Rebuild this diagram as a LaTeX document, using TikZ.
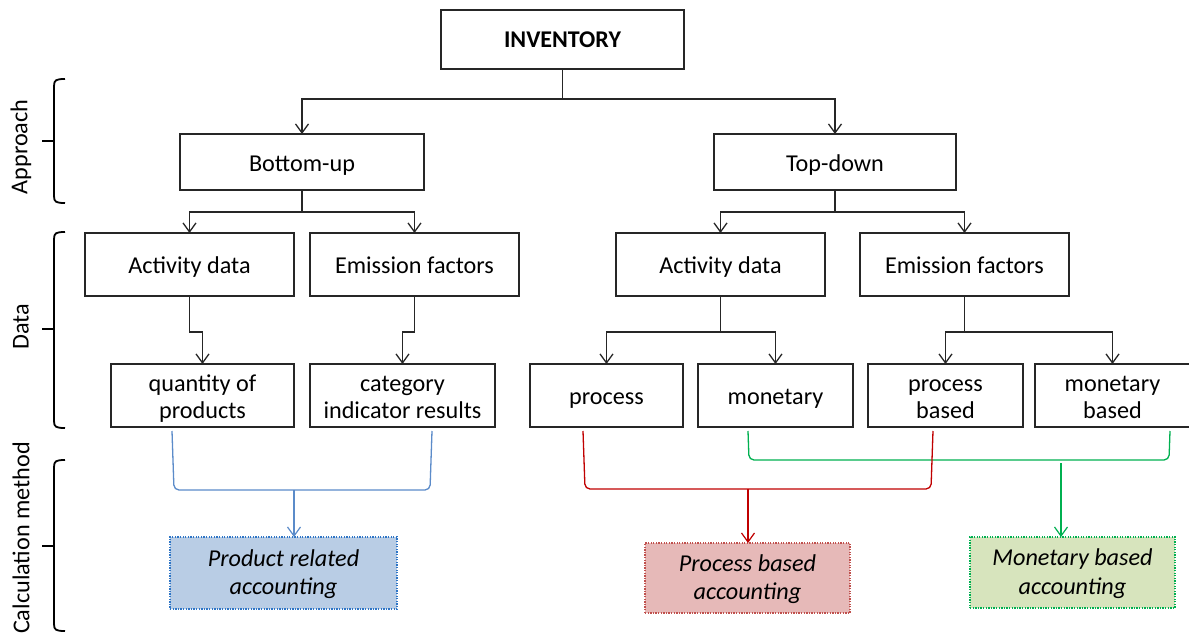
\documentclass[tikz,border=0pt]{standalone}
\usepackage{fontspec}
\setmainfont{Carlito}
\usetikzlibrary{arrows.meta}
\definecolor{bline}{HTML}{5B8BC9}
\definecolor{bfill}{HTML}{B9CDE5}
\definecolor{bdot}{HTML}{2E75C6}
\definecolor{rline}{HTML}{C00000}
\definecolor{rfill}{HTML}{E6B9B8}
\definecolor{rdot}{HTML}{C0504D}
\definecolor{gline}{HTML}{00B050}
\definecolor{gfill}{HTML}{D7E4BD}
\definecolor{gdot}{HTML}{00B050}
\newcommand\stA{\rule{0pt}{22pt}}
\newcommand\stB{\rule[-4pt]{0pt}{0pt}}
\newcommand\stI{\rule{0pt}{19pt}}
\tikzset{
  box/.style={draw=black!85, line width=1.4pt, rectangle, inner sep=0pt, outer sep=0pt,
    align=center, font=\fontsize{24.2}{27}\selectfont},
  resbox/.style={rectangle, inner sep=0pt, outer sep=0pt, line width=1.3pt,
    dash pattern=on 1.3pt off 1.3pt, align=center, font=\fontsize{24.2}{28.3}\selectfont\itshape},
  conn/.style={line width=1.4pt, draw=black!85},
  arr/.style={conn, -{Straight Barb[length=9pt,width=13pt,line width=1.3pt]}},
  carr/.style={line width=1.3pt, -{Straight Barb[length=9pt,width=13pt,line width=1.2pt]}},
  cbr/.style={line width=1.3pt, rounded corners=5pt},
  brk/.style={line width=1.8pt, draw=black},
  side/.style={rotate=90, font=\fontsize{24.2}{28}\selectfont},
}
\begin{document}
\begin{tikzpicture}[x=1pt,y=-1pt]
\useasboundingbox (0,0) rectangle (1189,635);

% level nodes
\node[box, font=\fontsize{24}{28}\selectfont\bfseries, minimum width=243, minimum height=59] (inv) at (562.5,39.5) {INVENTORY};
\node[box, minimum width=244, minimum height=56] (bu) at (302,162) {\stA Bottom-up\stB};
\node[box, minimum width=242, minimum height=56] (td) at (835,162) {\stA Top-down\stB};

\node[box, minimum width=209, minimum height=63] (ad1) at (189.5,264.5) {\stA Activity data\stB};
\node[box, minimum width=209, minimum height=63] (ef1) at (414.5,264.5) {\stA Emission factors\stB};
\node[box, minimum width=209, minimum height=63] (ad2) at (720.5,264.5) {\stA Activity data\stB};
\node[box, minimum width=209, minimum height=63] (ef2) at (964.5,264.5) {\stA Emission factors\stB};

\node[box, minimum width=183, minimum height=63] (q) at (202.5,395.5) {\stA quantity of\\products\stB};
\node[box, minimum width=185, minimum height=63] (c) at (402.5,395.5) {\stA category\\indicator results\stB};
\node[box, minimum width=153, minimum height=63] (p) at (606.5,395.5) {\stA process\stB};
\node[box, minimum width=155, minimum height=63] (m) at (775.5,395.5) {\stA monetary\stB};
\node[box, minimum width=155, minimum height=63] (pb) at (945.5,395.5) {\stA process\\based\stB};
\node[box, minimum width=155, minimum height=63] (mb) at (1112.5,395.5) {\stA monetary\\based\stB};

\node[resbox, draw=bdot, fill=bfill, minimum width=227, minimum height=72] (pr) at (283.5,573) {\stI Product related\\accounting\stB};
\node[resbox, draw=rdot, fill=rfill, minimum width=205, minimum height=70] (pa) at (747.5,578) {\stI Process based\\accounting\stB};
\node[resbox, draw=gdot, fill=gfill, minimum width=205, minimum height=71] (ma) at (1072.5,572.5) {\stI Monetary based\\accounting\stB};

% black connectors
\coordinate (j0) at ([yshift=-30]inv.south);
\draw[conn] (inv.south) -- (j0);
\draw[arr] (j0) -| (bu.north);
\draw[arr] (j0) -| (td.north);

\coordinate (j1) at ([yshift=-22]bu.south);
\draw[conn] (bu.south) -- (j1);
\draw[arr] (j1) -| (ad1.north);
\draw[arr] (j1) -| (ef1.north);

\coordinate (j2) at ([yshift=-22]td.south);
\draw[conn] (td.south) -- (j2);
\draw[arr] (j2) -| (ad2.north);
\draw[arr] (j2) -| (ef2.north);

\draw[arr] (ad1.south) -- ++(0,36) -| (q.north);
\draw[arr] (ef1.south) -- ++(0,36) -| (c.north);

\coordinate (j3) at ([yshift=-36]ad2.south);
\draw[conn] (ad2.south) -- (j3);
\draw[arr] (j3) -| (p.north);
\draw[arr] (j3) -| (m.north);

\coordinate (j4) at ([yshift=-36]ef2.south);
\draw[conn] (ef2.south) -- (j4);
\draw[arr] (j4) -| (pb.north);
\draw[arr] (j4) -| (mb.north);

% coloured brackets
\coordinate (bq) at (172,431);
\coordinate (bc) at (432,431);
\coordinate (bj) at (294,490);
\draw[cbr, bline] (bq) -- (174,490) -- (430,490) -- (bc);
\draw[carr, bline] (bj) -- (bj |- pr.north);

\coordinate (gm) at (748,431);
\coordinate (gmb) at (1170,431);
\coordinate (gj) at (1061,460);
\draw[cbr, gline] (gm) -- (749,460) -- (1169,460) -- (gmb);
\draw[carr, gline] ([yshift=-3]gj) -- (gj |- ma.north);

\coordinate (rp) at (583,431);
\coordinate (rpb) at (933,431);
\coordinate (rj) at (748,489);
\draw[cbr, rline] (rp) -- (585,489) -- (931,489) -- (rpb);
\draw[carr, rline] (rj) -- (rj |- pa.north);

% side brackets
\draw[brk] (65,79) .. controls (56,79) and (54,80) .. (54,86) -- (54,196) .. controls (54,202) and (56,203) .. (65,203);
\draw[brk] (54,141) -- (42,141);
\draw[brk] (65,232) .. controls (56,232) and (54,233) .. (54,239) -- (54,421) .. controls (54,427) and (56,428) .. (65,428);
\draw[brk] (54,329) -- (42,329);
\draw[brk] (65,460) .. controls (56,460) and (54,461) .. (54,467) -- (54,624) .. controls (54,630) and (56,631) .. (65,631);
\draw[brk] (54,546) -- (42,546);

\node[side] (la) at (21,147) {Approach};
\node[side] (ld) at (21,327) {Data};
\node[side] (lc) at (21,538) {Calculation method};
\end{tikzpicture}
\end{document}
